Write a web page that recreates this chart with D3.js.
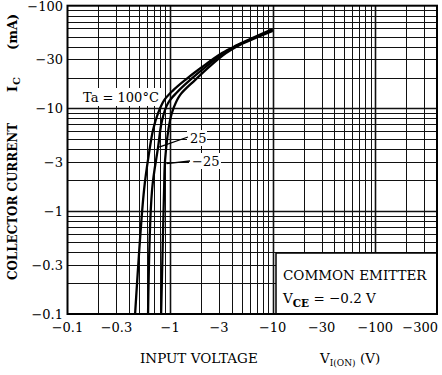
<!DOCTYPE html>
<html><head><meta charset="utf-8">
<script src="https://cdn.jsdelivr.net/npm/d3@7/dist/d3.min.js"></script>
<style>body{margin:0;background:#fff}svg{display:block}</style>
</head><body>
<script>
// ---- data (values as printed on the chart: negative volts / mA) ----
const xTickValues = [-0.1, -0.3, -1, -3, -10, -30, -100, -300];
const yTickValues = [-0.1, -0.3, -1, -3, -10, -30, -100];
const seriesNames = ["Ta = 100°C", "25", "-25"];
// [V_I(ON) (V), I_C (mA)]
const curve100 = [[-0.456,-0.1],[-0.557,-1.6],[-0.624,-3.7],[-0.683,-6.2],[-0.764,-9.0],[-0.874,-12],[-1.07,-15],[-1.40,-18.9],[-2.05,-25.3],[-3.21,-34.6],[-4.29,-40.4],[-10,-59.2]];
const curve25  = [[-0.610,-0.1],[-0.667,-1.6],[-0.764,-4.2],[-0.836,-7.7],[-0.956,-11.3],[-1.17,-14.4],[-1.56,-18.9],[-2.21,-25.3],[-3.35,-34.6],[-4.39,-40.4],[-10,-58.0]];
const curveM25 = [[-0.818,-0.1],[-0.874,-1.6],[-0.894,-3.15],[-1.0,-7.7],[-1.09,-10.3],[-1.25,-13.5],[-1.75,-18.9],[-2.39,-25.3],[-3.51,-34.6],[-4.53,-40.4],[-10,-56.8]];

const W = 442, H = 375;
const font = "'DejaVu Serif', serif";
const svg = d3.select("body").append("svg").attr("width", W).attr("height", H);

const x = d3.scaleLog().domain([-0.1, -400]).range([67.5, 437]);
const y = d3.scaleLog().domain([-0.1, -100]).range([314, 5.7]);

const isDecade = v => Math.abs(Math.log10(Math.abs(v)) - Math.round(Math.log10(Math.abs(v)))) < 1e-6;

// grid
const g = svg.append("g");
x.ticks().filter(v => Math.abs(v) > 0.1 + 1e-9 && Math.abs(v) < 400 - 1e-6).forEach(v => {
  const px = Math.round(x(v)) + 0.5;
  g.append("line").attr("x1", px).attr("x2", px).attr("y1", y(-100)).attr("y2", y(-0.1))
    .attr("stroke", "#111").attr("stroke-width", isDecade(v) ? 1.6 : 1);
});
y.ticks().filter(v => Math.abs(v) > 0.1 + 1e-9 && Math.abs(v) < 100 - 1e-6).forEach(v => {
  const py = Math.round(y(v)) + 0.5;
  g.append("line").attr("x1", x(-0.1)).attr("x2", x(-400)).attr("y1", py).attr("y2", py)
    .attr("stroke", "#111").attr("stroke-width", isDecade(v) ? 1.6 : 1);
});

// label backgrounds
const bg = svg.append("g").attr("fill", "#fff");
bg.append("rect").attr("x", 80).attr("y", 88).attr("width", 82).attr("height", 18);
bg.append("rect").attr("x", 187).attr("y", 130).attr("width", 20).attr("height", 16);
bg.append("rect").attr("x", 189).attr("y", 153).attr("width", 32).attr("height", 16);

// curves
const line = d3.line().x(d => x(d[0])).y(d => y(d[1])).curve(d3.curveCatmullRom.alpha(0.5));
[curve100, curve25, curveM25].forEach(c => {
  svg.append("path").attr("d", line(c)).attr("fill", "none").attr("stroke", "#000")
    .attr("stroke-width", 2.3).attr("stroke-linejoin", "round");
});

// annotations
const txt = (t, px, py, size, anchor) => svg.append("text").attr("x", px).attr("y", py)
  .attr("font-family", font).attr("font-size", size).attr("fill", "#000")
  .attr("text-anchor", anchor || "start").text(t);
txt(seriesNames[0], 83, 102, 13);
txt(seriesNames[1], 190, 143, 13);
txt("\u2212" + seriesNames[2].slice(1), 192, 166, 13);
svg.append("line").attr("x1", 188).attr("y1", 137).attr("x2", x(curve25[2][0]) + 1).attr("y2", y(curve25[2][1]))
  .attr("stroke", "#000").attr("stroke-width", 1.3);
svg.append("line").attr("x1", 190).attr("y1", 161).attr("x2", x(-0.9) + 1).attr("y2", y(-2.9))
  .attr("stroke", "#000").attr("stroke-width", 1.3);

// common emitter box
svg.append("rect").attr("x", 276).attr("y", 253).attr("width", 437 - 276).attr("height", 314 - 253)
  .attr("fill", "#fff").attr("stroke", "#000").attr("stroke-width", 1.5);
txt("COMMON EMITTER", 283, 280, 13.5);
const vce = svg.append("text").attr("x", 283).attr("y", 303).attr("font-family", font)
  .attr("font-size", 13.5).attr("fill", "#000");
vce.append("tspan").text("V");
vce.append("tspan").attr("dy", 4).attr("font-size", 10.5).attr("font-weight", "bold").text("CE");
vce.append("tspan").attr("dy", -4).text(" = \u22120.2 V");

// plot border
svg.append("rect").attr("x", 67.5).attr("y", 5.7).attr("width", 437 - 67.5).attr("height", 314 - 5.7)
  .attr("fill", "none").attr("stroke", "#000").attr("stroke-width", 2);

// tick labels
const fmt = v => "\u2212" + String(Math.abs(v));
xTickValues.forEach((v, i) => {
  const dx = i === xTickValues.length - 1 ? -4 : 0;
  txt(fmt(v), x(v) + dx, 332, 13, "middle");
});
yTickValues.forEach(v => {
  txt(fmt(v), 63, y(v) + 5, 13, "end");
});

// axis titles
txt("INPUT VOLTAGE", 140, 363, 13.5);
const vt = svg.append("text").attr("x", 320).attr("y", 363).attr("font-family", font)
  .attr("font-size", 13.5).attr("fill", "#000");
vt.append("tspan").text("V");
vt.append("tspan").attr("dy", 3).attr("font-size", 9).text("I(ON)");
txt("(V)", 360, 363, 13.5);

const yt = svg.append("g").attr("transform", "translate(17,280) rotate(-90)");
const ytext = (t, px, len) => {
  const e = yt.append("text").attr("x", px).attr("y", 0).attr("font-family", font)
    .attr("font-size", 13).attr("font-weight", "bold").attr("fill", "#000").text(t);
  if (len) e.attr("textLength", len).attr("lengthAdjust", "spacingAndGlyphs");
  return e;
};
ytext("COLLECTOR CURRENT", 0, 157);
const ic = ytext("I", 188);
ic.append("tspan").attr("dy", 3).attr("dx", 1).attr("font-size", 10).text("C");
ytext("(mA)", 230);
</script>
</body></html>
